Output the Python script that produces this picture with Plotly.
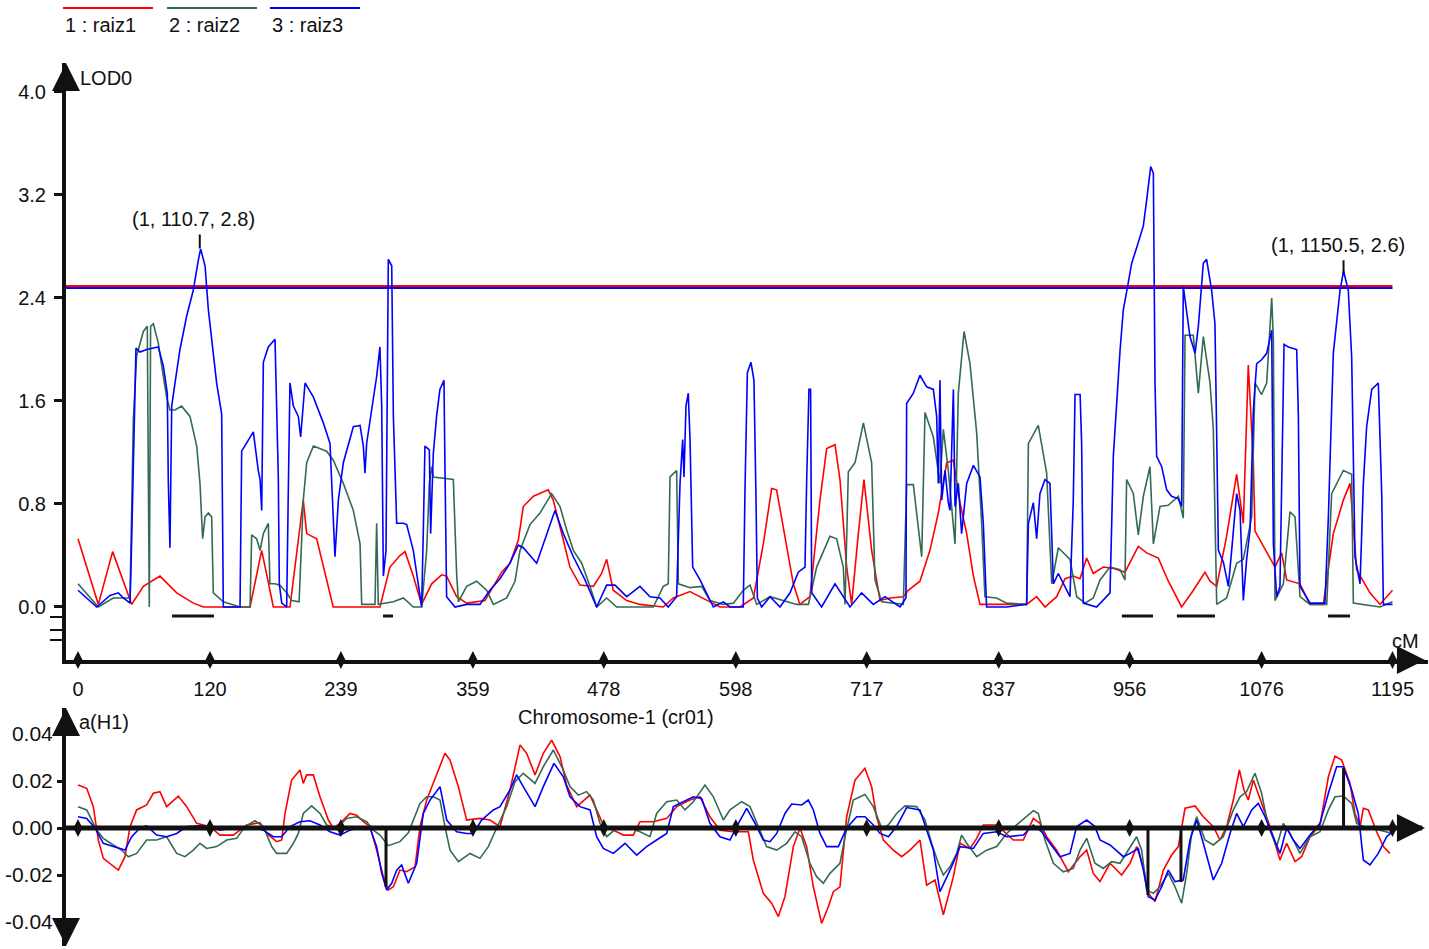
import plotly.graph_objects as go

# chromosome positions (cM) shown on the axis
CHROM_LEN = 1195
x_ticks = [0, 120, 239, 359, 478, 598, 717, 837, 956, 1076, 1195]
lod_ticks = [0.0, 0.8, 1.6, 2.4, 3.2, 4.0]
eff_ticks = [-0.04, -0.02, 0.0, 0.02, 0.04]
lod_minor_ticks = [-0.078, -0.179, -0.256]

trait_names = ["1 : raiz1", "2 : raiz2", "3 : raiz3"]
trait_colors = ["#ff0000", "#336b52", "#0000ff"]

# LOD profiles (cM, LOD)
lod_raiz1 = [
    (0, 0.53), (18.5, 0.02), (31.5, 0.43), (39.7, 0.24), (48.8, 0.02), (59.4, 0.16), (74.5, 0.24),
    (89.7, 0.11), (104.9, 0.03), (114, 0.0), (156.4, 0.0), (167, 0.44), (177.6, 0.0), (192.7, 0.0),
    (204.8, 0.83), (207.9, 0.57), (217, 0.53), (232, 0.0), (274.5, 0.0), (283.6, 0.31), (292.7, 0.40),
    (297.3, 0.43), (304.8, 0.24), (312.4, 0.02), (321.5, 0.18), (330.6, 0.25), (335.1, 0.24),
    (344.2, 0.08), (353.3, 0.03), (370, 0.05), (385.1, 0.27), (392.7, 0.34), (400.3, 0.52),
    (404.8, 0.78), (414, 0.86), (427.5, 0.91), (432, 0.83), (441.2, 0.52), (447.2, 0.31),
    (456.3, 0.17), (468.5, 0.16), (476, 0.26), (480.6, 0.37), (486.6, 0.13), (498.8, 0.05),
    (510.9, 0.02), (532, 0.0), (541.2, 0.07), (556.3, 0.12), (574.5, 0.04), (583.6, 0.0),
    (601.8, 0.0), (614, 0.07), (623, 0.49), (630.6, 0.92), (635.1, 0.91), (641.2, 0.62),
    (650.3, 0.18), (656.3, 0.02), (665.4, 0.08), (674.5, 0.83), (680.6, 1.23), (688.2, 1.26),
    (692.7, 0.99), (698.8, 0.31), (703.3, 0.02), (709.4, 0.57), (714.5, 0.99), (721.5, 0.44),
    (729.1, 0.05), (738.2, 0.07), (750.3, 0.08), (754.8, 0.13), (765.4, 0.20), (774.5, 0.44),
    (782.1, 0.73), (789.7, 1.12), (795.7, 1.14), (801.8, 0.81), (807.9, 0.57), (814, 0.24),
    (820, 0.02), (862.4, 0.02), (871.5, 0.08), (879.1, 0.0), (889.7, 0.08), (897.3, 0.22),
    (904.8, 0.24), (910.9, 0.22), (917, 0.38), (923, 0.26), (932.1, 0.31), (941.2, 0.30),
    (951.8, 0.27), (963.9, 0.47), (971.5, 0.42), (982.1, 0.38), (991.2, 0.20), (1003.3, 0.0),
    (1014, 0.13), (1024.5, 0.27), (1029.1, 0.20), (1035.2, 0.16), (1044.2, 0.55), (1053.3, 1.03),
    (1059.4, 0.65), (1063.9, 1.88), (1065.5, 1.58), (1068.5, 1.12), (1070, 0.59), (1080.6, 0.42),
    (1088.2, 0.31), (1094.2, 0.42), (1098.8, 0.21), (1110.9, 0.18), (1120, 0.02), (1132.1, 0.02),
    (1141.2, 0.57), (1150.3, 0.83), (1156.4, 0.96), (1162.4, 0.29), (1174.5, 0.11),
    (1183.6, 0.02), (1195, 0.13),
]

lod_raiz2 = [
    (0, 0.18), (18.5, 0.0), (32, 0.07), (47.3, 0.07), (50.3, 1.45), (53.3, 1.95), (59.4, 2.14),
    (63, 2.18), (64.8, 0.0), (66, 2.18), (68.5, 2.2), (73, 2.05), (77.6, 1.79), (80.6, 1.63),
    (83.6, 1.53), (88.2, 1.53), (94.2, 1.56), (101.8, 1.48), (107.9, 1.25), (110.9, 0.96),
    (113.3, 0.53), (115.5, 0.70), (118.5, 0.73), (121.5, 0.70), (123, 0.11), (132.1, 0.04),
    (147.3, 0.0), (156.4, 0.0), (157.9, 0.56), (162.4, 0.53), (165.5, 0.44), (168.5, 0.57),
    (173, 0.65), (174.5, 0.18), (179, 0.18), (183.6, 0.17), (189.7, 0.11), (194.2, 0.05),
    (201, 0.04), (204.8, 0.83), (207.9, 1.12), (214, 1.25), (226, 1.21), (232.1, 1.14),
    (241.2, 0.96), (250.3, 0.75), (256.4, 0.49), (257.9, 0.02), (270, 0.02), (271.5, 0.65),
    (273, 0.02), (286.7, 0.04), (295.8, 0.07), (304.8, 0.0), (312.4, 0.0), (317, 0.44),
    (319.4, 0.96), (321.5, 1.09), (323, 1.01), (332.1, 1.0), (341.2, 0.99), (344.2, 0.26),
    (345.8, 0.04), (353.3, 0.16), (362.4, 0.2), (371.5, 0.13), (377.6, 0.02), (389.7, 0.07),
    (397.3, 0.2), (401.8, 0.44), (410.9, 0.64), (420, 0.73), (430.6, 0.88), (438.2, 0.78),
    (444.2, 0.6), (450.3, 0.44), (457.9, 0.34), (465.5, 0.16), (471.5, 0.0), (480.6, 0.07),
    (489.7, 0.0), (523, 0.0), (532.1, 0.16), (536.6, 0.18), (538.2, 1.01), (544.2, 1.06),
    (545.8, 0.18), (556.4, 0.15), (567, 0.16), (574.5, 0.05), (586.7, 0.02), (595.8, 0.03),
    (604.8, 0.13), (610.9, 0.17), (617, 0.02), (629.1, 0.08), (641.2, 0.05), (653.3, 0.02),
    (664, 0.02), (671.5, 0.31), (683.6, 0.55), (689.7, 0.53), (695.7, 0.31), (697.3, 0.02),
    (700.3, 1.05), (706.4, 1.12), (714, 1.43), (721.5, 1.12), (724.5, 0.21), (730.6, 0.04),
    (750.3, 0.02), (753.3, 0.95), (759.4, 0.95), (767, 0.39), (770, 1.51), (777.6, 1.32),
    (783.6, 0.96), (786.7, 1.38), (791.2, 1.06), (797.3, 0.49), (800.3, 1.66), (805.5, 2.14),
    (810.9, 1.89), (817, 1.35), (821.5, 0.65), (824.5, 0.08), (835.1, 0.07), (844.2, 0.03),
    (862.4, 0.02), (864, 1.27), (873, 1.41), (880.6, 1.04), (885.2, 0.18), (891.2, 0.46),
    (901.8, 0.37), (907.9, 0.08), (915.5, 0.03), (923, 0.07), (929.1, 0.21), (938.2, 0.31),
    (947.3, 0.29), (951.8, 0.21), (953.3, 0.99), (959.4, 0.88), (963.9, 0.56), (968.5, 0.86),
    (974.5, 1.09), (977.6, 0.49), (983.6, 0.78), (991.2, 0.79), (1000.3, 0.86), (1004.8, 0.69),
    (1006.4, 2.11), (1013.9, 2.11), (1018.5, 1.66), (1023, 2.1), (1029.1, 1.74), (1032.1, 1.38),
    (1035.2, 0.02), (1044.2, 0.07), (1053.3, 0.34), (1059.4, 0.37), (1067, 0.7), (1070, 1.74),
    (1076, 1.65), (1080.6, 1.74), (1085.2, 2.4), (1086.7, 2.08), (1088.2, 0.05), (1095.8, 0.18),
    (1101.8, 0.74), (1106.4, 0.7), (1110.9, 0.08), (1120, 0.02), (1135.2, 0.02), (1139.7, 0.88),
    (1150.3, 1.06), (1157.9, 1.03), (1159.4, 0.03), (1183.6, 0.0), (1195, 0.04),
]

lod_raiz3 = [
    (0, 0.13), (17, 0.0), (29.1, 0.09), (36.7, 0.11), (41.2, 0.07), (47.3, 0.03), (48.8, 0.52),
    (51, 1.5), (52.7, 2.01), (56.4, 1.98), (62.4, 2.0), (73, 2.02), (77.6, 1.87), (81.2, 1.66),
    (82.1, 0.97), (83.6, 0.46), (85.2, 1.56), (88.2, 1.74), (92.7, 2.0), (98.8, 2.26),
    (104.8, 2.46), (109.5, 2.7), (111.5, 2.78), (115.5, 2.65), (118.5, 2.31), (126, 1.74),
    (130.6, 1.5), (132.1, 0.0), (147.3, 0.0), (148.8, 1.21), (159.4, 1.36), (163.9, 1.06),
    (165.5, 0.99), (167, 0.75), (168.5, 1.9), (173, 2.02), (179.1, 2.08), (182.1, 1.01),
    (183, 0.18), (185.2, 0.03), (189.7, 0.0), (191.2, 0.91), (192.7, 1.74), (195.8, 1.56),
    (200.3, 1.48), (202.4, 1.32), (206.4, 1.74), (214, 1.63), (223, 1.43), (229.1, 1.27),
    (232.1, 0.75), (233.6, 0.39), (236.7, 0.83), (241.2, 1.12), (250.3, 1.4), (256.4, 1.41),
    (259.4, 1.25), (260.9, 1.04), (262.4, 1.27), (267, 1.53), (271.5, 1.79), (274.5, 2.02),
    (276.1, 1.56), (277.6, 0.24), (280, 0.44), (282.1, 2.7), (285.2, 2.65), (286.7, 1.48),
    (288.2, 1.09), (289.7, 0.65), (295.8, 0.65), (298.8, 0.64), (304.8, 0.44), (309.4, 0.18),
    (312.4, 0.0), (314, 0.62), (315.4, 1.25), (319.4, 1.22), (320.6, 0.57), (323, 1.19),
    (326, 1.48), (329, 1.69), (332.7, 1.76), (333.6, 1.09), (335.1, 0.08), (342.7, 0.0),
    (353.3, 0.02), (365.4, 0.02), (374.5, 0.13), (383.6, 0.22), (392.7, 0.34), (400.3, 0.48),
    (404.8, 0.46), (417, 0.34), (426, 0.57), (433.6, 0.75), (441.2, 0.57), (450.3, 0.39),
    (460.9, 0.21), (471.5, 0.0), (480.6, 0.17), (488.2, 0.17), (498.8, 0.08), (510.9, 0.16),
    (520, 0.08), (529.1, 0.07), (536.6, 0.0), (544.2, 0.08), (547.3, 0.96), (549.7, 1.3),
    (550.9, 1.01), (552.7, 1.56), (554.8, 1.66), (556.4, 1.3), (558.8, 0.31), (565.5, 0.21),
    (577.6, 0.0), (586.7, 0.04), (592.7, 0.0), (604.8, 0.0), (606.4, 0.93), (608.5, 1.82),
    (611.8, 1.9), (614.5, 1.76), (616.3, 0.88), (617.6, 0.07), (621.5, 0.0), (629.1, 0.08),
    (638.2, 0.0), (647.3, 0.11), (654.8, 0.27), (660.9, 0.31), (662.4, 0.97), (664.5, 1.69),
    (666, 1.69), (667, 0.11), (676, 0.0), (688.2, 0.18), (701.8, 0.0), (712.4, 0.11),
    (723, 0.02), (733.6, 0.08), (747.3, 0.0), (752.7, 0.07), (753.3, 1.58), (759.4, 1.66),
    (765.4, 1.8), (771.5, 1.71), (777.6, 1.69), (780.6, 1.48), (782.1, 0.96), (783.6, 1.76),
    (785.2, 0.83), (788.2, 1.06), (791.2, 0.81), (792.7, 0.75), (795.8, 1.69), (797.3, 0.78),
    (800.3, 0.96), (803.3, 0.57), (807.9, 0.96), (814, 1.1), (820, 1.01), (823, 0.65),
    (826, 0.0), (844.2, 0.0), (862.4, 0.02), (864, 0.65), (868.5, 0.81), (871.5, 0.53),
    (874.5, 0.88), (879.1, 0.99), (883.6, 0.96), (886.7, 0.18), (891.2, 0.26), (901.8, 0.08),
    (904.8, 0.83), (906.4, 1.65), (911, 1.65), (912.4, 1.27), (913.9, 0.03), (926, 0.0),
    (938.2, 0.11), (941.2, 1.17), (947.3, 1.99), (950.3, 2.31), (954.8, 2.52), (957.9, 2.67),
    (963.9, 2.83), (968.5, 2.96), (971.5, 3.16), (975.2, 3.42), (977.6, 3.37), (979.1, 1.74),
    (980.6, 1.17), (985.2, 1.09), (989.7, 0.91), (994.2, 0.86), (1000.3, 0.84), (1003.3, 0.78),
    (1004.8, 2.49), (1007.9, 2.31), (1010.9, 2.1), (1015.5, 1.97), (1018.5, 2.18), (1023, 2.67),
    (1026, 2.7), (1030.6, 2.46), (1033.6, 2.2), (1035.2, 1.32), (1036.7, 0.44), (1041.2, 0.35),
    (1045.8, 0.16), (1048.8, 0.44), (1053.3, 0.88), (1056.4, 0.75), (1059.4, 0.05),
    (1062.4, 0.37), (1065.5, 0.6), (1068.5, 1.53), (1071.5, 1.89), (1076, 1.92), (1080.6, 1.97),
    (1085.2, 2.15), (1086.7, 0.49), (1089.7, 0.08), (1092.7, 0.16), (1096.4, 2.04),
    (1100.3, 2.02), (1107.9, 2.0), (1109.4, 1.5), (1110.9, 0.16), (1120, 0.03), (1133.6, 0.03),
    (1136.7, 0.7), (1141.2, 1.97), (1147.3, 2.46), (1150.5, 2.61), (1154.8, 2.46),
    (1157.9, 1.94), (1159.4, 1.12), (1160.9, 0.39), (1165.5, 0.18), (1168.5, 0.96),
    (1171.5, 1.4), (1176.1, 1.69), (1182.1, 1.74), (1185.2, 0.88), (1186.7, 0.02), (1195, 0.02),
]

# additive effects a(H1) (cM, effect)
eff_raiz1 = [
    (0, 0.0183), (7.9, 0.0169), (13.9, 0.0091), (18.5, -0.0051), (23, -0.0129), (29.1, -0.015),
    (36.7, -0.0179), (42.7, -0.0122), (47.3, 0.0006), (53.3, 0.0077), (62.4, 0.0098),
    (68.5, 0.0148), (74.5, 0.0155), (80.6, 0.0091), (91.2, 0.0136), (98.8, 0.0091),
    (107.9, 0.002), (120, 0.0006), (129.1, -0.003), (141.2, -0.003), (153.3, 0.0013),
    (165.5, 0.0023), (171.5, -0.0023), (180.6, -0.0058), (185.2, -0.0051), (188.2, 0.0062),
    (194.2, 0.0204), (201.8, 0.0247), (204.8, 0.019), (207.9, 0.0226), (213.9, 0.0226),
    (220, 0.0133), (227.6, 0.0034), (232.1, 0.0), (238.2, 0.002), (247.3, 0.0062),
    (253.3, 0.0055), (259.4, 0.0027), (265.5, 0.0006), (271.5, -0.0094), (277.6, -0.0207),
    (282.1, -0.0264), (286.7, -0.025), (292.7, -0.0179), (298.8, -0.0186), (306.4, -0.0165),
    (310.9, 0.0006), (317, 0.0119), (323, 0.019), (333.6, 0.0318), (338.2, 0.0289),
    (345.8, 0.0176), (353.3, 0.0034), (365.4, 0.0041), (374.5, 0.0034), (383.6, 0.0006),
    (392.7, 0.0162), (397.3, 0.0261), (401.8, 0.0353), (407.9, 0.0318), (415.5, 0.0226),
    (423, 0.0318), (430.6, 0.0374), (438.2, 0.0304), (444.2, 0.0183), (453.3, 0.0091),
    (465.4, 0.014), (471.5, 0.0077), (477.6, 0.0013), (486.7, -0.0009), (495.8, -0.003),
    (504.8, -0.003), (510.9, 0.0027), (523, 0.0027), (535.2, 0.0041), (544.2, 0.0091),
    (556.4, 0.0119), (565.4, 0.0133), (574.5, 0.0048), (583.6, -0.0009), (595.8, -0.0016),
    (609.4, -0.0016), (613.9, -0.0136), (623, -0.0278), (630.6, -0.032), (636.7, -0.0377),
    (642.7, -0.0292), (650.3, -0.0079), (656.4, 0.0), (662.4, -0.0079), (668.5, -0.025),
    (676, -0.0406), (682.1, -0.0335), (686.7, -0.0271), (692.7, -0.025), (698.8, 0.0048),
    (706.4, 0.0204), (715.4, 0.0254), (721.5, 0.0176), (726, 0.0048), (732.1, -0.0051),
    (741.2, -0.0094), (748.8, -0.0122), (756.4, -0.0094), (765.5, -0.0051), (771.5, -0.0243),
    (779.1, -0.0221), (786.7, -0.0369), (795.8, -0.0207), (801.8, -0.0065), (810.9, -0.0087),
    (817, -0.0044), (823, 0.0013), (835.2, 0.0013), (844.2, -0.0023), (850.3, -0.0051),
    (859.4, -0.0051), (868.5, 0.0041), (874.5, 0.002), (880.6, -0.0037), (889.7, -0.0094),
    (900.3, -0.0186), (910.9, -0.0122), (917, -0.0094), (923, -0.0193), (929.1, -0.0228),
    (938.2, -0.015), (948.8, -0.02), (956.4, -0.015), (962.4, -0.0079), (968.5, -0.0165),
    (973, -0.0278), (979.1, -0.0313), (986.7, -0.0179), (994.2, -0.0115), (1000.3, -0.0079),
    (1006.4, 0.0084), (1015.5, 0.0094), (1023, 0.0048), (1032.1, 0.0006), (1038.2, -0.0051),
    (1044.2, 0.0006), (1050.3, 0.0119), (1055.8, 0.0247), (1060, 0.0162), (1063.9, 0.0119),
    (1068.5, 0.0204), (1076, 0.0105), (1083.6, 0.0006), (1092.7, -0.0136), (1098.8, -0.0065),
    (1106.4, -0.0143), (1112.4, -0.0122), (1120, -0.0037), (1129.1, 0.0013), (1136.7, 0.0218),
    (1142.7, 0.0306), (1148.8, 0.0289), (1156.4, 0.019), (1160.9, 0.0062), (1165.5, 0.0006),
    (1168.5, 0.0084), (1173, 0.0077), (1180.6, -0.0016), (1186.7, -0.0079), (1192.7, -0.0108),
]

eff_raiz2 = [
    (0, 0.0091), (7.9, 0.0077), (17, -0.0009), (23, -0.0044), (32.1, -0.0072), (39.7, -0.0094),
    (45.8, -0.0122), (53.3, -0.0108), (62.4, -0.0051), (71.5, -0.0051), (80.6, -0.0037),
    (89.7, -0.0108), (97.3, -0.0122), (104.8, -0.0094), (110.9, -0.0065), (117, -0.0087),
    (126, -0.0079), (135.2, -0.0051), (144.2, -0.0044), (151.8, 0.0006), (160.9, 0.0031),
    (168.5, 0.0006), (176.1, -0.0079), (180.6, -0.0108), (189.7, -0.0108), (195.8, -0.0065),
    (200.3, -0.0023), (204.8, 0.0062), (212.4, 0.0094), (220, 0.0062), (226, 0.0013),
    (235.2, 0.0), (244.2, 0.0041), (253.3, 0.0048), (262.4, 0.0027), (268.5, -0.0009),
    (274.5, -0.003), (282.1, -0.0075), (292.7, -0.0058), (300.3, -0.002), (310.9, 0.0105),
    (317, 0.0133), (323, 0.0133), (329.1, 0.0119), (333.6, 0.0006), (338.2, -0.0094),
    (345.8, -0.0143), (356.4, -0.0108), (365.4, -0.0129), (373, -0.0079), (380.6, 0.0),
    (389.7, 0.0091), (397.3, 0.0197), (404.8, 0.0233), (415.5, 0.019), (423, 0.0261),
    (432.1, 0.0332), (441.2, 0.0247), (447.3, 0.0176), (454.8, 0.014), (462.4, 0.0155),
    (468.5, 0.0119), (474.5, 0.002), (480.6, -0.0037), (489.7, 0.0), (498.8, 0.0006),
    (510.9, -0.0016), (520, -0.0037), (526, 0.0062), (535.2, 0.0112), (544.2, 0.0119),
    (551.8, 0.0077), (559.4, 0.0112), (570, 0.0183), (577.6, 0.0133), (586.7, 0.0034),
    (592.7, 0.0077), (603.3, 0.0112), (610.9, 0.0091), (618.5, 0.0006), (626, -0.0079),
    (635.2, -0.0094), (644.2, -0.0065), (651.8, -0.0016), (657.9, -0.0037), (665.4, -0.015),
    (671.5, -0.0207), (677.6, -0.0235), (683.6, -0.0193), (692.7, -0.015), (697.3, -0.0037),
    (704.8, 0.0119), (715.4, 0.0143), (723, 0.0091), (730.6, 0.0), (736.7, 0.0013),
    (744.2, 0.0062), (751.8, 0.0094), (762.4, 0.0091), (770, 0.0034), (776, -0.0065),
    (782.1, -0.015), (786.7, -0.02), (792.7, -0.0165), (798.8, -0.0108), (803.3, -0.003),
    (807.9, -0.0065), (817, -0.0122), (826, -0.0094), (835.2, -0.0079), (844.2, -0.0023),
    (853.3, 0.0013), (862.4, 0.0048), (868.5, 0.0074), (873, 0.0062), (879.1, -0.0051),
    (886.7, -0.015), (895.8, -0.0186), (904.8, -0.0172), (910.9, -0.0094), (917, -0.0044),
    (924.5, -0.015), (932.1, -0.0172), (939.7, -0.0143), (947.3, -0.015), (956.4, -0.0079),
    (962.4, -0.0037), (967, -0.0094), (971.5, -0.0264), (977.6, -0.0278), (983.6, -0.025),
    (991.2, -0.0193), (997.3, -0.025), (1003.3, -0.032), (1007.9, -0.0193), (1012.4, -0.0023),
    (1017, 0.0048), (1024.5, -0.0051), (1032.1, -0.0072), (1041.2, -0.0037), (1050.3, 0.0077),
    (1056.4, 0.0133), (1062.4, 0.0155), (1070, 0.0233), (1076, 0.0148), (1082.1, 0.0006),
    (1089.7, -0.0079), (1095.8, 0.002), (1101.8, -0.0023), (1110.9, -0.0108), (1120, -0.0037),
    (1129.1, -0.0016), (1136.7, 0.0077), (1142.7, 0.0133), (1150.3, 0.0136), (1157.9, 0.0105),
    (1162.4, 0.002), (1171.5, 0.0), (1183.6, -0.0009), (1195, -0.0023),
]

eff_raiz3 = [
    (0, 0.0048), (7.9, 0.0041), (15.5, 0.0), (23, -0.0065), (32.1, -0.0079), (42.7, -0.0094),
    (48.8, -0.0037), (56.4, 0.0), (62.4, 0.0009), (71.5, -0.003), (80.6, -0.0037),
    (89.7, -0.0023), (98.8, 0.0006), (110.9, 0.0009), (120, 0.0006), (129.1, -0.0009),
    (141.2, 0.0), (156.4, 0.0006), (168.5, -0.0009), (177.6, -0.0037), (185.2, -0.0037),
    (192.7, 0.0006), (201.8, 0.0027), (210.9, 0.0031), (220, 0.0013), (229.1, -0.0016),
    (238.2, -0.003), (247.3, -0.0009), (256.4, 0.0003), (265.5, 0.0), (271.5, -0.0079),
    (276.1, -0.0193), (280.6, -0.0264), (285.2, -0.0235), (289.7, -0.0179), (294.2, -0.0157),
    (300.3, -0.0235), (307.9, -0.015), (313.9, 0.0062), (320, 0.0119), (329.1, 0.0176),
    (335.2, 0.0034), (344.2, -0.0016), (353.3, -0.0023), (359.4, -0.0023), (366.9, 0.0034),
    (377.6, 0.0077), (383.6, 0.0091), (392.7, 0.0162), (398.8, 0.0226), (404.8, 0.0176),
    (415.5, 0.0091), (423, 0.0176), (432.7, 0.0275), (441.2, 0.0218), (447.3, 0.0133),
    (456.4, 0.0091), (465.5, 0.0077), (471.5, -0.0037), (477.6, -0.0087), (486.7, -0.0108),
    (497.3, -0.0065), (507.9, -0.0115), (516.9, -0.0079), (526, -0.0051), (535.2, -0.0023),
    (541.2, 0.0091), (550.3, 0.0112), (559.4, 0.0133), (567, 0.0126), (574.5, 0.002),
    (583.6, -0.0037), (592.7, -0.0051), (598.8, 0.0006), (607.9, 0.0084), (615.5, 0.002),
    (623, -0.0051), (629.1, -0.0058), (635.2, -0.0023), (642.7, 0.0062), (648.8, 0.0102),
    (657.9, 0.0098), (663.9, 0.0119), (668.5, 0.0077), (674.5, -0.0023), (680.6, -0.0079),
    (691.2, -0.0079), (698.8, 0.0), (707.9, 0.0048), (715.5, 0.0048), (723, 0.0013),
    (729.1, -0.0023), (736.7, -0.0037), (744.2, 0.0006), (753.3, 0.0087), (765.4, 0.0077),
    (771.5, -0.0009), (777.6, -0.0094), (783.6, -0.0271), (788.2, -0.0228), (794.2, -0.0165),
    (801.8, -0.0079), (814, -0.0087), (823, -0.0023), (835.2, -0.0016), (844.2, -0.0037),
    (859.4, -0.003), (868.5, 0.0013), (876.1, -0.0016), (883.6, -0.0065), (892.7, -0.0122),
    (901.8, -0.0108), (907.9, 0.0006), (917, 0.0034), (924.5, 0.0006), (929.1, -0.0051),
    (938.2, -0.0072), (950.3, -0.0122), (956.4, -0.0108), (963.9, -0.0087), (968.5, -0.0179),
    (973, -0.0292), (979.1, -0.0306), (985.2, -0.025), (991.2, -0.0179), (997.3, -0.0228),
    (1004.8, -0.0221), (1010.9, -0.0051), (1017, 0.0034), (1023, -0.0065), (1032.1, -0.0221),
    (1039.7, -0.015), (1047.3, -0.0023), (1053.3, 0.0062), (1059.4, 0.0006), (1067, 0.0077),
    (1073, 0.0105), (1079.1, 0.0048), (1085.2, -0.0023), (1092.7, -0.0108), (1098.8, 0.0),
    (1104.8, -0.0051), (1110.9, -0.0087), (1120, -0.003), (1129.1, 0.002), (1136.7, 0.0148),
    (1144.2, 0.0261), (1150.3, 0.0261), (1157.9, 0.0162), (1163.9, 0.0062), (1168.5, -0.0136),
    (1174.5, -0.0157), (1182.1, -0.0108), (1189.7, -0.0037), (1195, -0.0016),
]

threshold_lod = [2.493, 2.477]  # drawn red then blue
peaks = [(110.7, 2.8), (1150.5, 2.6)]
support_intervals = [(85.5, 123.6), (277.3, 286.4), (949.0, 977.3), (999.0, 1033.6), (1136.4, 1156.4)]
interval_lod = -0.07
qtl_pos = [280.0, 972.7, 1002.7, 1150.5]
qtl_eff = [-0.025, -0.0285, -0.023, 0.0255]

# ---- geometry ----
W, H = 1429, 949
ML, MR, MT, MB = 66, 1, 63, 3
x_range = [-10.909, 1227.27]
lod_range = [-0.4117, 4.225]
eff_range = [-0.0502, 0.05106]
top_domain = [0.3239, 1.0]
bot_domain = [0.0, 0.2695]
FONT = "Liberation Sans, Arial, sans-serif"
INK = "#111111"

lod_series = [lod_raiz1, lod_raiz2, lod_raiz3]
eff_series = [eff_raiz1, eff_raiz2, eff_raiz3]

fig = go.Figure()

# threshold lines (red over blue)
for thr, col in zip(threshold_lod, [trait_colors[0], trait_colors[2]]):
    fig.add_trace(go.Scatter(x=[x_range[0], CHROM_LEN], y=[thr, thr], mode="lines",
                             line=dict(color=col, width=2), xaxis="x", yaxis="y",
                             hoverinfo="skip"))

for name, col, pts in zip(trait_names, trait_colors, lod_series):
    fig.add_trace(go.Scatter(x=[p[0] for p in pts], y=[p[1] for p in pts], mode="lines",
                             name=name, line=dict(color=col, width=1.6),
                             xaxis="x", yaxis="y"))

for name, col, pts in zip(trait_names, trait_colors, eff_series):
    fig.add_trace(go.Scatter(x=[p[0] for p in pts], y=[p[1] for p in pts], mode="lines",
                             name=name, line=dict(color=col, width=1.6),
                             xaxis="x2", yaxis="y2"))

# support intervals under the LOD profile
iv_x, iv_y = [], []
for a, b in support_intervals:
    iv_x += [a, b, None]
    iv_y += [interval_lod, interval_lod, None]
fig.add_trace(go.Scatter(x=iv_x, y=iv_y, mode="lines", line=dict(color=INK, width=3),
                         xaxis="x", yaxis="y", hoverinfo="skip"))

# QTL effect bars in the lower panel
q_x, q_y = [], []
for p, e in zip(qtl_pos, qtl_eff):
    q_x += [p, p, None]
    q_y += [0, e, None]
fig.add_trace(go.Scatter(x=q_x, y=q_y, mode="lines", line=dict(color=INK, width=3),
                         xaxis="x2", yaxis="y2", hoverinfo="skip"))

# zero line of the effect panel (acts as its x axis)
fig.add_trace(go.Scatter(x=[x_range[0], 1222], y=[0, 0], mode="lines",
                         line=dict(color=INK, width=5), xaxis="x2", yaxis="y2",
                         hoverinfo="skip"))

# diamond tick marks on both x axes
fig.add_trace(go.Scatter(x=x_ticks, y=[lod_range[0]] * len(x_ticks), mode="markers",
                         marker=dict(symbol="diamond-tall", size=13, color=INK),
                         cliponaxis=False, xaxis="x", yaxis="y", hoverinfo="skip"))
fig.add_trace(go.Scatter(x=x_ticks, y=[0] * len(x_ticks), mode="markers",
                         marker=dict(symbol="diamond-tall", size=13, color=INK),
                         cliponaxis=False, xaxis="x2", yaxis="y2", hoverinfo="skip"))

annotations = []
shapes = []

# peak labels
for px_, py_ in peaks:
    annotations.append(dict(x=px_, y=py_, xref="x", yref="y", text=f"(1, {px_}, {py_})",
                            showarrow=False, xshift=-6, yshift=27,
                            font=dict(size=20, color=INK, family=FONT)))
    shapes.append(dict(type="line", xref="x", yref="y", ysizemode="pixel", yanchor=py_,
                       x0=px_, x1=px_, y0=-2, y1=12, line=dict(color=INK, width=2)))

# axis arrows
arrow = dict(showarrow=True, arrowhead=2, arrowsize=1.4, arrowwidth=4, arrowcolor=INK, text="")
annotations += [
    dict(x=x_range[0], y=lod_range[1], xref="x", yref="y", ax=0, ay=28, **arrow),
    dict(x=1224.5, y=lod_range[0], xref="x", yref="y", ax=-28, ay=0, **arrow),
    dict(x=x_range[0], y=eff_range[1], xref="x2", yref="y2", ax=0, ay=28, **arrow),
    dict(x=x_range[0], y=eff_range[0], xref="x2", yref="y2", ax=0, ay=-28, **arrow),
    dict(x=1224.5, y=0, xref="x2", yref="y2", ax=-28, ay=0, **arrow),
]


def px_to_paper(px, py):
    return (px - ML) / (W - ML - MR), (H - MB - py) / (H - MT - MB)


# axis names
for text, (px, py), anchor in [
    ("LOD0", (78, 78), "left"),
    ("a(H1)", (77, 722), "left"),
    ("cM", (1405, 641), "center"),
    ("Chromosome-1 (cr01)", (616, 717), "center"),
]:
    xp, yp = px_to_paper(px, py)
    annotations.append(dict(x=xp, y=yp, xref="paper", yref="paper", text=text,
                            showarrow=False, xanchor=anchor, yanchor="middle",
                            font=dict(size=20, color=INK, family=FONT)))

# legend drawn as coloured rules above the labels
for name, col, left in zip(trait_names, trait_colors, [63, 167, 270]):
    x0, y0 = px_to_paper(left, 8)
    x1, _ = px_to_paper(left + 90, 8)
    shapes.append(dict(type="line", xref="paper", yref="paper", x0=x0, x1=x1, y0=y0, y1=y0,
                       line=dict(color=col, width=2)))
    xt, yt = px_to_paper(left, 25)
    annotations.append(dict(x=xt, y=yt, xref="paper", yref="paper", text=name,
                            showarrow=False, xanchor="left", yanchor="middle",
                            font=dict(size=20, color=INK, family=FONT)))

axis_common = dict(showgrid=False, zeroline=False, automargin=False)

fig.update_layout(
    width=W, height=H,
    margin=dict(l=ML, r=MR, t=MT, b=MB, pad=0),
    paper_bgcolor="white", plot_bgcolor="white",
    showlegend=False,
    font=dict(family=FONT, size=20, color=INK),
    xaxis=dict(domain=[0, 1], range=x_range, anchor="y", showline=True, linewidth=4,
               linecolor=INK, tickvals=x_ticks, ticks="", ticklabelstandoff=8,
               tickfont=dict(size=20), **axis_common),
    yaxis=dict(domain=top_domain, range=lod_range, anchor="x", showline=True, linewidth=4,
               linecolor=INK, tickvals=lod_ticks, ticktext=[f"{v:.1f}" for v in lod_ticks],
               ticks="outside", ticklen=8, tickwidth=3, tickcolor=INK,
               ticklabelstandoff=4, tickfont=dict(size=20),
               minor=dict(tickvals=lod_minor_ticks, ticks="outside", ticklen=12,
                          tickwidth=2, tickcolor=INK),
               **axis_common),
    xaxis2=dict(domain=[0, 1], range=x_range, anchor="y2", showline=False,
                showticklabels=False, ticks="", **axis_common),
    yaxis2=dict(domain=bot_domain, range=eff_range, anchor="x2", showline=True, linewidth=4,
                linecolor=INK, tickvals=eff_ticks, ticktext=[f"{v:.2f}" for v in eff_ticks],
                ticks="outside", ticklen=5, tickwidth=3, tickcolor=INK,
                ticklabelstandoff=0, tickfont=dict(size=21), **axis_common),
    annotations=annotations,
    shapes=shapes,
)

# the page is photographed at exactly the figure size, so drop the default body margin
fig.write_html("out.html", config={"displayModeBar": False},
               post_script="document.body.style.margin='0';")
